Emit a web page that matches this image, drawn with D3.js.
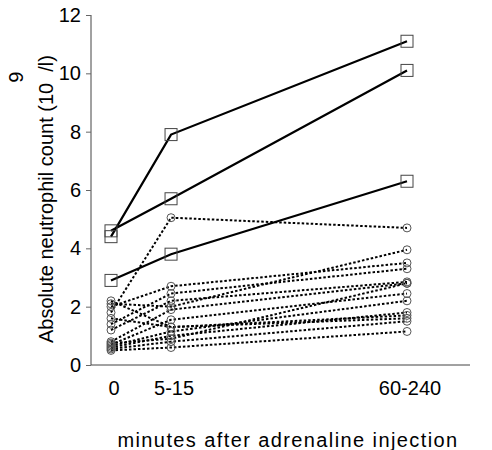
<!DOCTYPE html>
<html>
<head>
<meta charset="utf-8">
<script src="https://cdn.jsdelivr.net/npm/d3@7"></script>
<style>
  body { margin: 0; background: #fff; }
  text { font-family: "Liberation Sans", Arial, sans-serif; fill: #000; }
</style>
</head>
<body>
<div id="chart"></div>
<script>
// time points on the x axis
const timePoints = ["0", "5-15", "60-240"];
const xPos = [0, 1, 4.93]; // relative spacing of the three time points
const yTicks = [0, 2, 4, 6, 8, 10, 12];

// patients with big response (squares, solid lines)
const squareSeries = [
  [4.4, 7.9, 11.1],
  [4.6, 5.7, 10.1],
  [2.9, 3.8, 6.3]
];

// other patients (circles, dotted lines)
const circleSeries = [
  [1.8, 5.05, 4.7],
  [2.1, 2.0, 3.95],
  [2.0, 2.7, 3.5],
  [1.4, 2.45, 3.3],
  [1.2, 2.2, 2.85],
  [0.8, 1.9, 2.8],
  [2.2, 1.3, 1.6],
  [0.7, 1.55, 2.45],
  [0.65, 1.15, 2.2],
  [0.6, 1.0, 1.8],
  [0.55, 0.8, 1.5],
  [0.5, 0.6, 1.15],
  [1.6, 1.3, 1.7],
  [0.75, 0.9, 2.8]
];

let width = 492, height = 450;
let margin = { top: 15, left: 91, bottom: 85 };

let svg = d3.select("#chart").append("svg")
  .attr("width", width)
  .attr("height", height);

let x = d3.scaleLinear().domain([0, 4.93]).range([111, 407]);
let y = d3.scaleLinear().domain([0, 12]).range([height - margin.bottom, margin.top]);

// axes
let yAxis = d3.axisLeft(y).tickValues(yTicks).tickSize(5).tickPadding(5);
let gy = svg.append("g")
  .attr("transform", "translate(" + margin.left + ",0)")
  .call(yAxis);
gy.select(".domain").attr("stroke", "#444").attr("d", "M0," + y(12) + "V" + y(0));
gy.selectAll(".tick line").attr("stroke", "#666");
gy.selectAll(".tick text").style("font-size", "20px").attr("font-family", null);

svg.append("line")
  .attr("x1", margin.left).attr("x2", 470)
  .attr("y1", y(0)).attr("y2", y(0))
  .attr("stroke", "#444");

svg.selectAll("text.xlab")
  .data(timePoints)
  .enter().append("text")
  .attr("class", "xlab")
  .attr("x", (d, i) => x(xPos[i]) + 3)
  .attr("y", 395)
  .attr("text-anchor", "middle")
  .style("font-size", "20px")
  .text(d => d);

svg.append("text")
  .attr("x", 288).attr("y", 447)
  .attr("text-anchor", "middle")
  .style("font-size", "20px")
  .style("letter-spacing", "1.4px")
  .text("minutes after adrenaline injection");

let ytitle = svg.append("text")
  .attr("transform", "translate(53,199) rotate(-90)")
  .attr("text-anchor", "middle")
  .style("font-size", "20px");
ytitle.append("tspan").text("Absolute neutrophil count  (10");
ytitle.append("tspan").attr("dy", -30).text("9");
ytitle.append("tspan").attr("dy", 30).text("/l)");

let line = d3.line()
  .x((d, i) => x(xPos[i]))
  .y(d => y(d));

// dotted lines + circles
svg.selectAll("path.dot")
  .data(circleSeries)
  .enter().append("path")
  .attr("class", "dot")
  .attr("d", line)
  .attr("fill", "none")
  .attr("stroke", "#000")
  .attr("stroke-width", 2)
  .attr("stroke-dasharray", "2.5,2");

circleSeries.forEach(function (s) {
  svg.selectAll(null)
    .data(s)
    .enter().append("circle")
    .attr("cx", (d, i) => x(xPos[i]))
    .attr("cy", d => y(d))
    .attr("r", 4)
    .attr("fill", "none")
    .attr("stroke", "#555")
    .attr("stroke-width", 1);
});

// solid lines + squares
svg.selectAll("path.solid")
  .data(squareSeries)
  .enter().append("path")
  .attr("class", "solid")
  .attr("d", line)
  .attr("fill", "none")
  .attr("stroke", "#000")
  .attr("stroke-width", 2.2);

squareSeries.forEach(function (s) {
  svg.selectAll(null)
    .data(s)
    .enter().append("rect")
    .attr("x", (d, i) => x(xPos[i]) - 6)
    .attr("y", d => y(d) - 6)
    .attr("width", 12)
    .attr("height", 12)
    .attr("fill", "none")
    .attr("stroke", "#444")
    .attr("stroke-width", 1);
});
</script>
</body>
</html>
